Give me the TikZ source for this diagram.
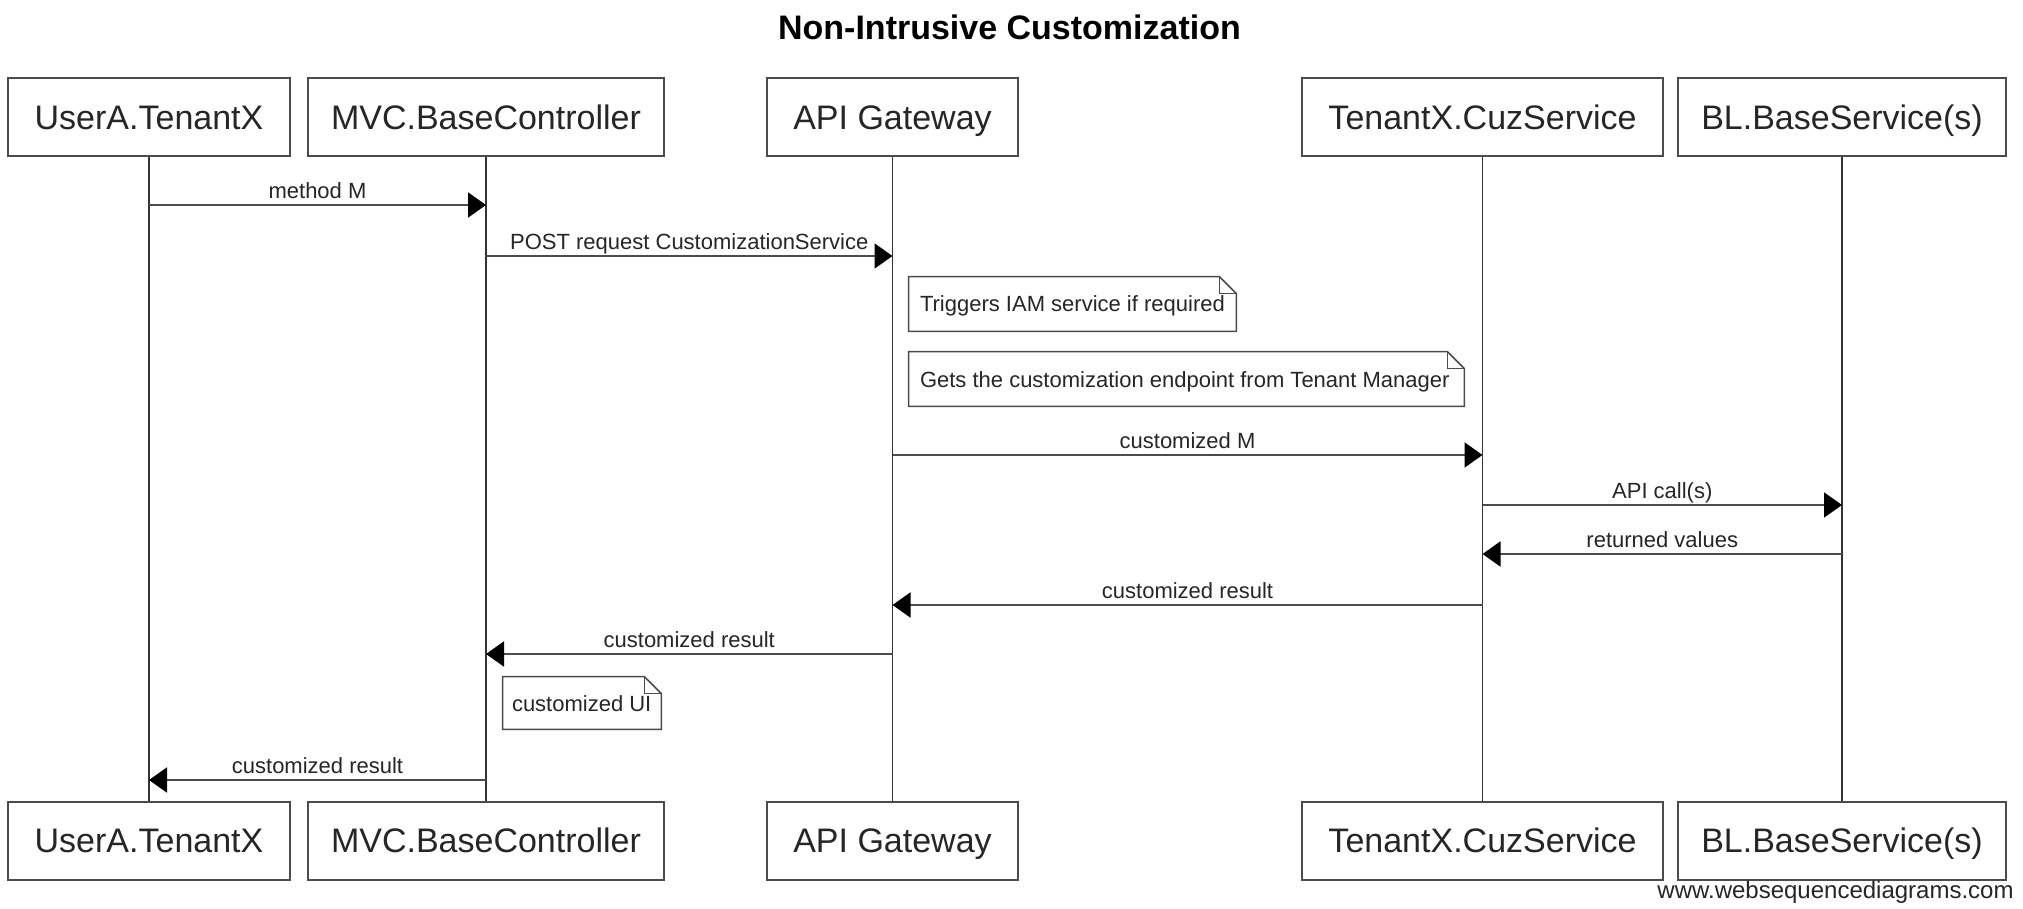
\documentclass[tikz,border=0pt]{standalone}
\usepackage{fontspec}
\setmainfont{Liberation Sans}
\usetikzlibrary{arrows.meta}

\tikzset{
  actor/.style={draw=black!70, line width=1pt, fill=white, minimum height=39pt,
    inner sep=0pt, text height=12.2pt, text depth=0pt,
    font=\fontsize{17}{20}\selectfont, text=black!85},
  lifeline/.style={draw=black!80, line width=0.7pt},
  msg/.style={draw=black!70, line width=1pt,
    -{Triangle[length=9pt,width=12.5pt,color=black]}},
  msglabel/.style={font=\fontsize{11}{13}\selectfont, text=black!85, anchor=base,
    inner sep=0pt, yshift=3.3pt},
  notebox/.style={inner sep=0pt, font=\fontsize{11}{13}\selectfont, text=black!85,
    text height=8pt, text depth=0pt, minimum height=27pt},
  noteline/.style={draw=black!70, line width=0.8pt},
}

% draws the dog-eared outline of a note node
\newcommand{\noteoutline}[1]{%
  \draw[noteline] (#1.north west) -- ([xshift=-8.5pt]#1.north east)
    -- ([yshift=-8.5pt]#1.north east) -- (#1.south east) -- (#1.south west) -- cycle;
  \draw[noteline] ([xshift=-8.5pt]#1.north east) -- ([xshift=-8.5pt,yshift=-8.5pt]#1.north east)
    -- ([yshift=-8.5pt]#1.north east);
}

\begin{document}
\begin{tikzpicture}[x=0.5pt,y=-0.5pt]
\fill[white] (0,0) rectangle (2023,909);
\useasboundingbox (0,0) rectangle (2023,909);

% title
\node[font=\bfseries\fontsize{17}{20}\selectfont, anchor=base, inner sep=0pt] (title)
  at (1009.5,40) {Non-Intrusive Customization};

% participants, top row
\node[actor, minimum width=141pt]   (uaT)  at (149,117)    {UserA.TenantX};
\node[actor, minimum width=178pt]   (mvcT) at (486,117)    {MVC.BaseController};
\node[actor, minimum width=125.5pt] (apiT) at (892.5,117)  {API Gateway};
\node[actor, minimum width=180.5pt] (txT)  at (1482.5,117) {TenantX.CuzService};
\node[actor, minimum width=164pt]   (blT)  at (1842,117)   {BL.BaseService(s)};

% participants, bottom row
\node[actor, minimum width=141pt]   (uaB)  at (149,840.5)    {UserA.TenantX};
\node[actor, minimum width=178pt]   (mvcB) at (486,840.5)    {MVC.BaseController};
\node[actor, minimum width=125.5pt] (apiB) at (892.5,840.5)  {API Gateway};
\node[actor, minimum width=180.5pt] (txB)  at (1482.5,840.5) {TenantX.CuzService};
\node[actor, minimum width=164pt]   (blB)  at (1842,840.5)   {BL.BaseService(s)};

% lifelines
\draw[lifeline] (uaT.south)  -- (uaB.north);
\draw[lifeline] (mvcT.south) -- (mvcB.north);
\draw[lifeline] (apiT.south) -- (apiB.north);
\draw[lifeline] (txT.south)  -- (txB.north);
\draw[lifeline] (blT.south)  -- (blB.north);

% messages
\draw[msg] (uaT |- 0,205) -- node[msglabel] (l1) {method M} (mvcT |- 0,205);
\draw[msg] (mvcT |- 0,256) -- node[msglabel] (l2) {POST request CustomizationService} (apiT |- 0,256);

% notes on the gateway
\node[notebox, minimum width=163.5pt] (n1) at (1072.5,304)
  {\hbox to 163.5pt{\hspace{5.5pt}Triggers IAM service if required\hss}};
\noteoutline{n1}
\node[notebox, minimum width=277.5pt] (n2) at (1186.5,379)
  {\hbox to 277.5pt{\hspace{5.5pt}Gets the customization endpoint from Tenant Manager\hss}};
\noteoutline{n2}

\draw[msg] (apiT |- 0,455) -- node[msglabel] (l3) {customized M} (txT |- 0,455);
\draw[msg] (txT |- 0,505) -- node[msglabel] (l4) {API call(s)} (blT |- 0,505);
\draw[msg] (blT |- 0,554) -- node[msglabel] (l5) {returned values} (txT |- 0,554);
\draw[msg] (txT |- 0,605) -- node[msglabel] (l6) {customized result} (apiT |- 0,605);
\draw[msg] (apiT |- 0,654) -- node[msglabel] (l7) {customized result} (mvcT |- 0,654);

% note on the controller
\node[notebox, minimum width=79pt, minimum height=26pt] (n3) at (582,703)
  {\hbox to 79pt{\hspace{4.5pt}customized UI\hss}};
\noteoutline{n3}

\draw[msg] (mvcT |- 0,780) -- node[msglabel] (l8) {customized result} (uaT |- 0,780);

% footer
\node[font=\fontsize{12}{14}\selectfont, text=black!85, anchor=base east, inner sep=0pt] (wsd)
  at (2014,898) {www.websequencediagrams.com};
\end{tikzpicture}
\end{document}
